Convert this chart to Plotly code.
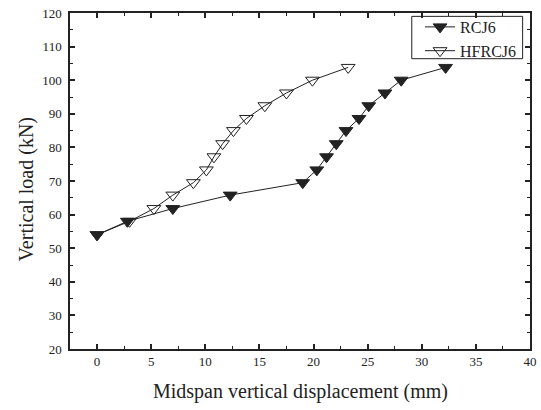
import plotly.graph_objects as go

rcj6_x = [0, 2.8, 7.0, 12.3, 19.0, 20.3, 21.2, 22.1, 23.0, 24.2, 25.1, 26.6, 28.1, 32.2]
rcj6_y = [54, 58, 61.8, 65.8, 69.5, 73.3, 77.2, 81.1, 85, 88.6, 92.4, 96.2, 100, 103.8]
hfrcj6_x = [0, 3.0, 5.25, 7.0, 8.9, 10.1, 10.8, 11.6, 12.6, 13.8, 15.5, 17.5, 19.9, 23.2]
hfrcj6_y = [54, 58, 61.8, 65.8, 69.5, 73.3, 77.2, 81.1, 85, 88.6, 92.4, 96.2, 100, 103.8]
x_title = "Midspan vertical displacement (mm)"
y_title = "Vertical load (kN)"

font_family = "Liberation Serif"
ink = "#222"

fig = go.Figure()
fig.add_trace(go.Scatter(
    x=rcj6_x, y=rcj6_y, name="RCJ6", mode="lines+markers",
    line=dict(color=ink, width=1),
    marker=dict(symbol="triangle-down", size=12, color=ink,
                line=dict(color=ink, width=1)),
))
fig.add_trace(go.Scatter(
    x=hfrcj6_x, y=hfrcj6_y, name="HFRCJ6", mode="lines+markers",
    line=dict(color=ink, width=1),
    marker=dict(symbol="triangle-down-open", size=12, color=ink,
                line=dict(color=ink, width=1)),
))

axis_common = dict(
    showline=True, linecolor=ink, linewidth=1.5, mirror="ticks",
    ticks="inside", ticklen=5, tickwidth=1.5, tickcolor=ink,
    showgrid=False, zeroline=False, automargin=False,
    tickfont=dict(family=font_family, size=13, color=ink),
)

fig.update_xaxes(
    range=[-2.5, 40], tickvals=[0, 5, 10, 15, 20, 25, 30, 35, 40],
    minor=dict(ticks="inside", ticklen=3, tickwidth=1, tickcolor=ink, dtick=2.5, tick0=0),
    **axis_common,
)
fig.update_yaxes(
    range=[20, 120], tickvals=[20, 30, 40, 50, 60, 70, 80, 90, 100, 110, 120],
    minor=dict(ticks="inside", ticklen=3, tickwidth=1, tickcolor=ink, dtick=5, tick0=0),
    ticklabelstandoff=4,
    **axis_common,
)

fig.update_layout(
    width=541, height=410,
    margin=dict(l=70, r=11, t=10, b=61),
    paper_bgcolor="white", plot_bgcolor="white",
    showlegend=True,
    legend=dict(
        x=0.761, y=1.009, xanchor="left", yanchor="top",
        borderwidth=0, bgcolor="rgba(255,255,255,0)",
        font=dict(family=font_family, size=16, color=ink),
        tracegroupgap=0, itemwidth=30,
    ),
    shapes=[dict(type="rect", xref="paper", yref="paper",
                 x0=0.743, x1=0.984, y0=0.864, y1=0.990,
                 line=dict(color=ink, width=1), layer="above")],
    annotations=[
        dict(text=x_title, xref="paper", yref="paper", x=0.5, y=-0.127,
             xanchor="center", yanchor="middle", showarrow=False,
             font=dict(family=font_family, size=20, color=ink)),
        dict(text=y_title, xref="paper", yref="paper", x=-0.0957, y=0.475,
             xanchor="center", yanchor="middle", showarrow=False, textangle=-90,
             font=dict(family=font_family, size=20, color=ink)),
    ],
)

fig.write_html("out.html", config={"displayModeBar": False},
               post_script="document.body.style.margin='0px';")
